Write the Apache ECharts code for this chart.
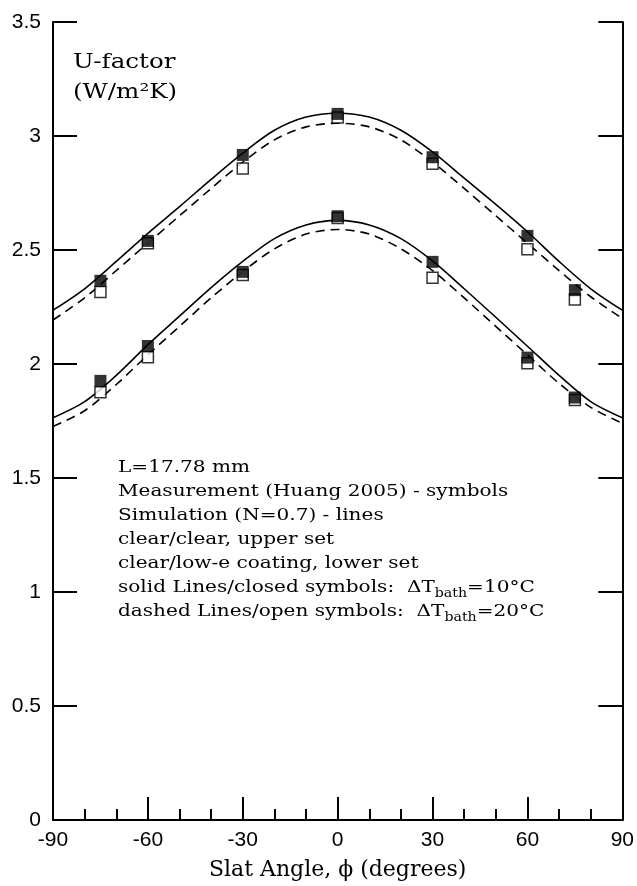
<!DOCTYPE html>
<html><head><meta charset="utf-8">
<script src="https://cdn.jsdelivr.net/npm/echarts@6/dist/echarts.min.js"></script>
<style>html,body{margin:0;padding:0;background:#fff}#c{width:637px;height:886px}</style>
</head><body><div id="c"></div>
<script>
// Measurement angles (degrees)
const measAngles = [-75, -60, -30, 0, 30, 60, 75];
// Measured U-factor: upper set (clear/clear)
const upperClosed = [2.365, 2.54, 2.917, 3.097, 2.907, 2.562, 2.324];
const upperOpen   = [2.316, 2.53, 2.858, 3.081, 2.878, 2.503, 2.283];
// Measured U-factor: lower set (clear/low-e)
const lowerClosed = [1.926, 2.079, 2.404, 2.648, 2.448, 2.028, 1.853];
const lowerOpen   = [1.876, 2.03, 2.39, 2.64, 2.378, 2.003, 1.842];
// Simulation curves (read every 10 degrees)
const simAngles   = [-90, -80, -70, -60, -50, -40, -30, -20, -10, 0, 10, 20, 30, 40, 50, 60, 70, 80, 90];
const upperSolid  = [2.236, 2.33, 2.45, 2.573, 2.69, 2.81, 2.925, 3.025, 3.083, 3.10, 3.083, 3.025, 2.93, 2.815, 2.70, 2.58, 2.45, 2.33, 2.236];
const upperDashed = [2.193, 2.29, 2.41, 2.53, 2.65, 2.77, 2.885, 2.983, 3.04, 3.056, 3.04, 2.983, 2.885, 2.77, 2.65, 2.53, 2.41, 2.295, 2.20];
const lowerSolid  = [1.764, 1.835, 1.95, 2.085, 2.21, 2.335, 2.45, 2.55, 2.61, 2.63, 2.61, 2.55, 2.452, 2.33, 2.205, 2.078, 1.95, 1.835, 1.764];
const lowerDashed = [1.726, 1.795, 1.91, 2.04, 2.165, 2.29, 2.405, 2.505, 2.57, 2.59, 2.57, 2.505, 2.41, 2.29, 2.165, 2.04, 1.915, 1.81, 1.74];
// Tick labels
const yTicks = ['0','0.5','1','1.5','2','2.5','3','3.5'];
const annotations = [
  'L=17.78 mm',
  'Measurement (Huang 2005) - symbols',
  'Simulation (N=0.7) - lines',
  'clear/clear, upper set',
  'clear/low-e coating, lower set',
  'solid Lines/closed symbols:  {d|ΔT}{s|bath}{d|=10°C}',
  'dashed Lines/open symbols:  {d|ΔT}{s|bath}{d|=20°C}'
];

const zip = (xs, ys) => xs.map((x, i) => [x, ys[i]]);
const chart = echarts.init(document.getElementById('c'), null, {renderer: 'canvas'});
const serif = 'DejaVu Serif';
const sans = 'Liberation Sans';

function lineSeries(data, dashed) {
  return {type: 'line', data: zip(simAngles, data), smooth: 0.3, showSymbol: false, symbol: 'none',
    lineStyle: {color: '#000', width: 1.6, type: dashed ? [9, 6] : 'solid'}, z: 2, silent: true};
}
function scatterSeries(data, filled) {
  return {type: 'scatter', data: zip(measAngles, data), symbol: 'rect', symbolSize: filled ? 12 : 11,
    itemStyle: filled ? {color: '#000'} : {color: '#fff', borderColor: '#000', borderWidth: 1.5},
    z: filled ? 4 : 3, silent: true};
}

chart.setOption({
  animation: false,
  backgroundColor: '#fff',
  grid: {left: 53, right: 14, top: 22, bottom: 65},
  xAxis: {
    type: 'value', min: -90, max: 90, interval: 30,
    name: 'Slat Angle, ϕ (degrees)', nameLocation: 'middle', nameGap: 39,
    nameTextStyle: {fontFamily: serif, fontSize: 22, color: '#000'},
    axisLine: {show: true, onZero: false, lineStyle: {color: '#000', width: 2}},
    axisTick: {show: true, inside: true, length: 23, lineStyle: {color: '#000', width: 2}},
    minorTick: {show: true, splitNumber: 3, length: 11, lineStyle: {color: '#000', width: 2}},
    axisLabel: {fontFamily: sans, fontSize: 21, color: '#000', margin: 10},
    splitLine: {show: false}
  },
  yAxis: [{
    type: 'value', min: 0, max: 3.5, interval: 0.5, position: 'left',
    axisLine: {show: true, onZero: false, lineStyle: {color: '#000', width: 2}},
    axisTick: {show: true, inside: true, length: 24, lineStyle: {color: '#000', width: 2}},
    axisLabel: {fontFamily: sans, fontSize: 21, color: '#000', margin: 12,
      formatter: (v) => yTicks[Math.round(v / 0.5)]},
    splitLine: {show: false}
  }, {
    type: 'value', min: 0, max: 3.5, interval: 0.5, position: 'right',
    axisLine: {show: true, onZero: false, lineStyle: {color: '#000', width: 2}},
    axisTick: {show: true, inside: true, length: 24, lineStyle: {color: '#000', width: 2}},
    axisLabel: {show: false},
    splitLine: {show: false}
  }],
  series: [
    lineSeries(upperSolid, false),
    lineSeries(upperDashed, true),
    lineSeries(lowerSolid, false),
    lineSeries(lowerDashed, true),
    scatterSeries(upperOpen, false),
    scatterSeries(lowerOpen, false),
    scatterSeries(upperClosed, true),
    scatterSeries(lowerClosed, true)
  ],
  graphic: [
    {type: 'text', x: 73, y: 48, scaleX: 1.17, style: {text: 'U-factor\n(W/m²K)', font: '21px "DejaVu Serif"', fill: '#000', lineHeight: 30}},
    {type: 'text', x: 118, y: 456, scaleX: 1.18, style: {
      text: annotations.join('\n'), fill: '#000', font: '17px "DejaVu Serif"', lineHeight: 24,
      rich: {
        d: {fontFamily: serif, fontSize: 17, lineHeight: 24},
        s: {fontFamily: serif, fontSize: 12, lineHeight: 24, padding: [12, 0, 0, 0]}
      }
    }}
  ]
});
</script></body></html>
